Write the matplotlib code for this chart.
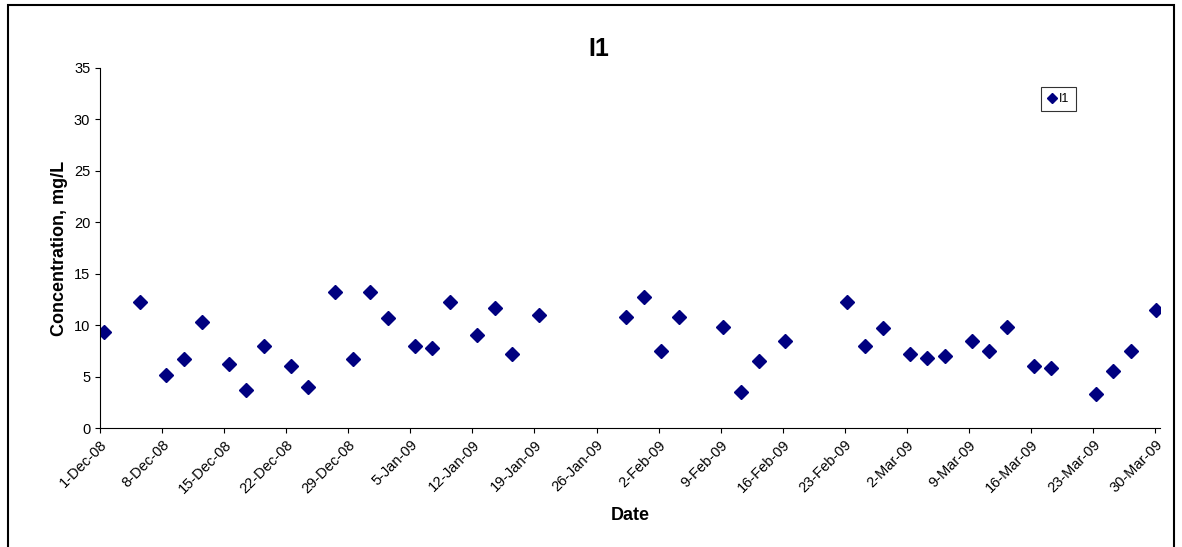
import matplotlib
matplotlib.use("Agg")
import matplotlib.pyplot as plt
import matplotlib.dates as mdates
import datetime as dt

plt.rcParams['font.family'] = ['Liberation Sans', 'DejaVu Sans']

start = dt.datetime(2008, 12, 1)
day_offsets = [0.5, 4.5, 7.5, 9.5, 11.5, 14.5, 16.5, 18.5, 21.5, 23.5, 26.5, 28.5, 30.5,
               32.5, 35.5, 37.5, 39.5, 42.5, 44.5, 46.5, 49.5,
               59.3, 61.3, 63.3, 65.3, 70.3, 72.3, 74.3, 77.3, 84.3, 86.3, 88.3, 91.3,
               93.3, 95.3, 98.3, 100.3, 102.3, 105.3, 107.3, 112.3, 114.3, 116.3, 119.1]
values = [9.3, 12.3, 5.2, 6.7, 10.3, 6.2, 3.7, 8.0, 6.0, 4.0, 13.2, 6.7, 13.2,
          10.7, 8.0, 7.8, 12.3, 9.0, 11.7, 7.2, 11.0,
          10.8, 12.7, 7.5, 10.8, 9.8, 3.5, 6.5, 8.5, 12.3, 8.0, 9.7, 7.2,
          6.8, 7.0, 8.5, 7.5, 9.8, 6.0, 5.8, 3.3, 5.5, 7.5, 11.5]
dates = [start + dt.timedelta(days=d) for d in day_offsets]
tick_dates = [start + dt.timedelta(days=7 * i) for i in range(18)]

fig = plt.figure(figsize=(11.82, 5.47), dpi=100)
fig.patches.append(plt.Rectangle((0.007, -0.1), 0.986, 1.09, transform=fig.transFigure,
                                 fill=False, edgecolor='black', linewidth=1.5))
ax = fig.add_axes([0.0846, 0.2175, 0.8964, 0.6582])
ax.plot(dates, values, linestyle='none', marker='D', markersize=7.5,
        color='#000080', label='I1')
ax.set_xlim(start, start + dt.timedelta(days=119.5))
ax.set_ylim(0, 35)
ax.set_yticks(range(0, 36, 5))
ax.set_xticks(tick_dates)
ax.xaxis.set_major_formatter(plt.FuncFormatter(
    lambda v, p: (lambda d: f"{d.day}-{d.strftime('%b-%y')}")(mdates.num2date(v))))
plt.setp(ax.get_xticklabels(), rotation=45, ha='right', rotation_mode='anchor')
ax.tick_params(labelsize=10.5)
for s in ['top', 'right']:
    ax.spines[s].set_visible(False)
fig.text(0.507, 0.91, 'I1', fontsize=18, fontweight='bold', ha='center', va='center')
ax.set_xlabel('Date', fontsize=13, fontweight='bold', labelpad=8)
ax.set_ylabel('Concentration, mg/L', fontsize=13, fontweight='bold')
leg = ax.legend(loc='upper right', bbox_to_anchor=(0.927, 0.965), fontsize=9,
                fancybox=False, edgecolor='black', markerscale=0.7,
                handlelength=0.8, handletextpad=0.2, borderpad=0.5)
leg.get_frame().set_linewidth(0.8)
fig.savefig('out.png', dpi=100)
